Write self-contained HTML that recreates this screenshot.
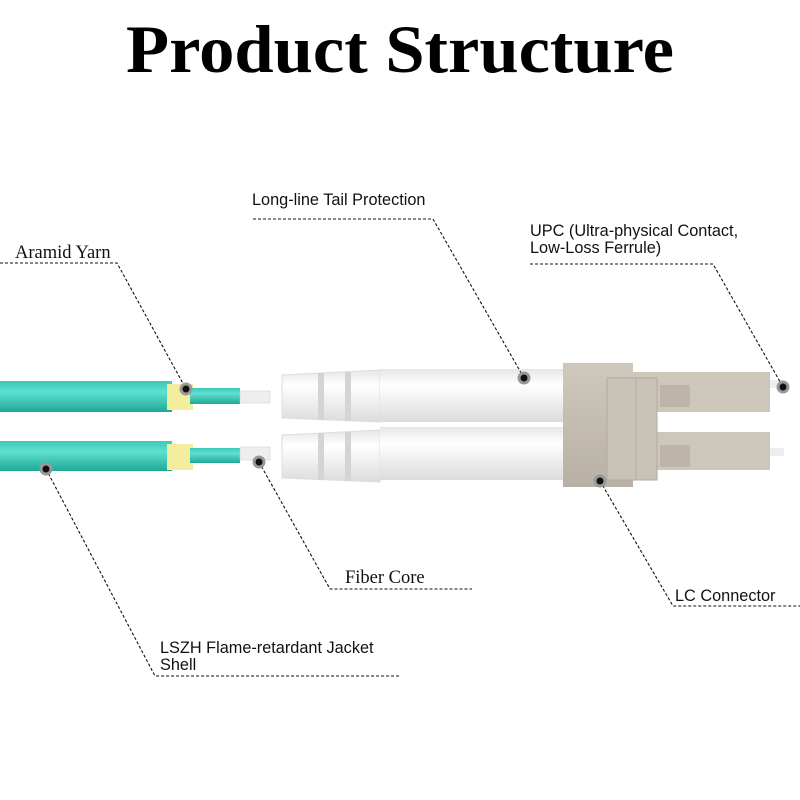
<!DOCTYPE html>
<html><head><meta charset="utf-8"><style>
html,body{margin:0;padding:0;background:#fff;}
svg{display:block;}
.s{font-family:"Liberation Sans",sans-serif;font-size:16.3px;fill:#111;}
.f{font-family:"Liberation Serif",serif;font-size:18.5px;fill:#111;}
.d{stroke:#111;stroke-width:1.1;stroke-dasharray:3,2;fill:none;}
</style></head><body>
<svg width="800" height="800" viewBox="0 0 800 800" xmlns="http://www.w3.org/2000/svg">
<defs>
<linearGradient id="teal" x1="0" y1="0" x2="0" y2="1">
<stop offset="0" stop-color="#3cc8b8"/><stop offset="0.35" stop-color="#5fe0d0"/><stop offset="1" stop-color="#1fa896"/></linearGradient>
<linearGradient id="wh" x1="0" y1="0" x2="0" y2="1">
<stop offset="0" stop-color="#e6e6e6"/><stop offset="0.3" stop-color="#ffffff"/><stop offset="1" stop-color="#dcdcdc"/></linearGradient>
<linearGradient id="gr" x1="0" y1="0" x2="0" y2="1">
<stop offset="0" stop-color="#cfc8bd"/><stop offset="1" stop-color="#b8b0a4"/></linearGradient>
</defs>
<text x="126" y="72" textLength="548" lengthAdjust="spacingAndGlyphs" font-family="Liberation Serif,serif" font-weight="bold" font-size="68" fill="#000">Product Structure</text>

<g>
<rect x="0" y="381" width="172" height="31" fill="url(#teal)"/>
<rect x="167" y="384" width="26" height="26" fill="#f3ee9e"/>
<rect x="190" y="388" width="50" height="16" fill="url(#teal)"/>
<rect x="240" y="391" width="30" height="12" fill="#eee" stroke="#ccc" stroke-width="0.5"/>
<rect x="0" y="441" width="172" height="30" fill="url(#teal)"/>
<rect x="167" y="444" width="26" height="26" fill="#f3ee9e"/>
<rect x="190" y="448" width="50" height="15" fill="url(#teal)"/>
<rect x="240" y="447" width="30" height="13" fill="#eee" stroke="#ccc" stroke-width="0.5"/>
</g>
<g>
<path d="M282 375 L380 370 L380 422 L282 418 Z" fill="url(#wh)" stroke="#ddd"/>
<rect x="318" y="373" width="6" height="47" fill="#d4d4d4"/>
<rect x="345" y="372" width="6" height="49" fill="#d4d4d4"/>
<rect x="380" y="369" width="186" height="53" fill="url(#wh)"/>
<path d="M282 435 L380 430 L380 482 L282 478 Z" fill="url(#wh)" stroke="#ddd"/>
<rect x="318" y="433" width="6" height="47" fill="#d4d4d4"/>
<rect x="345" y="432" width="6" height="49" fill="#d4d4d4"/>
<rect x="380" y="427" width="186" height="53" fill="url(#wh)"/>
</g>
<g>
<rect x="630" y="372" width="140" height="40" fill="#cdc6bb"/>
<rect x="630" y="432" width="140" height="38" fill="#cdc6bb"/>
<rect x="660" y="385" width="30" height="22" fill="#bdb5a9"/>
<rect x="660" y="445" width="30" height="22" fill="#bdb5a9"/>
<rect x="770" y="380" width="14" height="8" fill="#eee"/>
<rect x="770" y="448" width="14" height="8" fill="#eee"/>
<rect x="563" y="363" width="70" height="124" fill="url(#gr)"/>
<rect x="607" y="378" width="50" height="102" fill="#c9c2b7" stroke="#b2aa9e"/>
<line x1="636" y1="378" x2="636" y2="480" stroke="#b2aa9e"/>
</g>

<path class="d" d="M0 263 H117 L186 389"/>
<path class="d" d="M253 219 H433 L524 378"/>
<path class="d" d="M530 264 H713 L783 387"/>
<path class="d" d="M259 462 L330 589 H472"/>
<path class="d" d="M600 481 L673 606 H800"/>
<path class="d" d="M46 469 L155 676 H400"/>

<g fill="#111" stroke="#999" stroke-width="3">
<circle cx="186" cy="389" r="5"/>
<circle cx="259" cy="462" r="5"/>
<circle cx="46" cy="469" r="5"/>
<circle cx="524" cy="378" r="5"/>
<circle cx="783" cy="387" r="5"/>
<circle cx="600" cy="481" r="5"/>
</g>

<text class="f" x="15" y="258">Aramid Yarn</text>
<text class="s" x="252" y="205">Long-line Tail Protection</text>
<text class="s" x="530" y="236">UPC (Ultra-physical Contact,</text>
<text class="s" x="530" y="253">Low-Loss Ferrule)</text>
<text class="f" x="345" y="583">Fiber Core</text>
<text class="s" x="675" y="601">LC Connector</text>
<text class="s" x="160" y="653">LSZH Flame-retardant Jacket</text>
<text class="s" x="160" y="670">Shell</text>
</svg>
</body></html>
